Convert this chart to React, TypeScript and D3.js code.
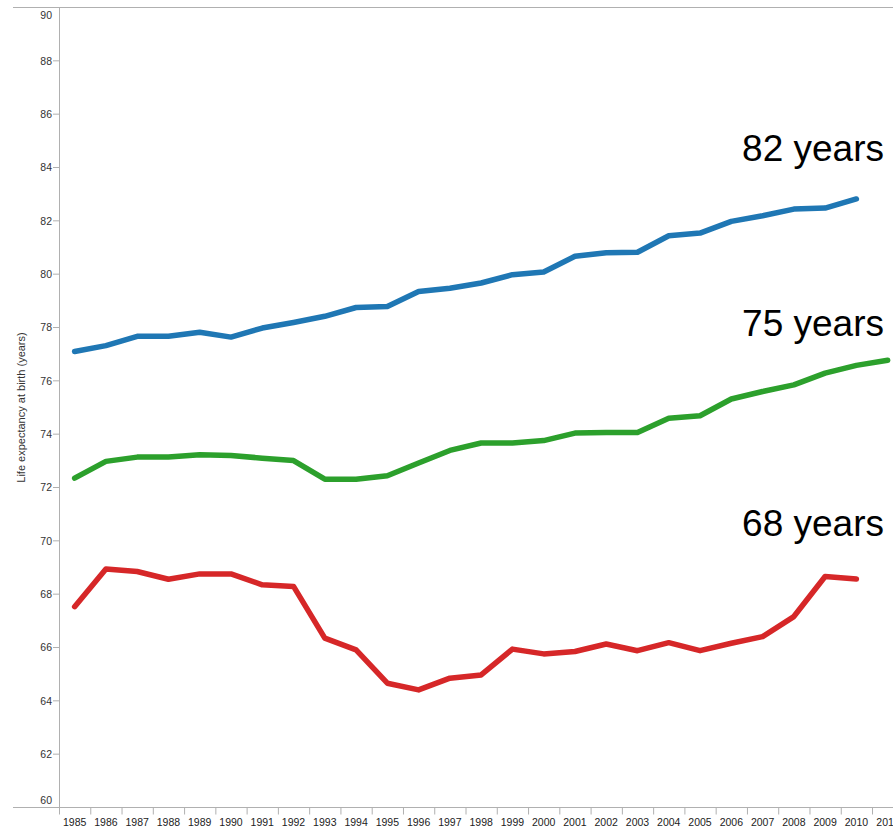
import { useEffect, useMemo } from 'react';
import * as d3 from 'd3';

// years along the x axis (the 2011 band is cut off at the right edge)
const years = d3.range(1985, 2012).map(String);

// life expectancy at birth, one value per year
const highSeries = [
	77.1, 77.32, 77.67, 77.67, 77.82, 77.64, 77.98, 78.19, 78.42, 78.75, 78.79, 79.35, 79.47,
	79.67, 79.98, 80.08, 80.67, 80.8, 80.82, 81.44, 81.54, 81.98, 82.19, 82.44, 82.48, 82.82,
];
const midSeries = [
	72.35, 72.98, 73.14, 73.14, 73.23, 73.2, 73.1, 73.01, 72.31, 72.31, 72.44, 72.92, 73.39,
	73.67, 73.67, 73.76, 74.04, 74.06, 74.06, 74.6, 74.69, 75.32, 75.6, 75.85, 76.29, 76.58, 76.77,
];
const lowSeries = [
	67.53, 68.94, 68.85, 68.56, 68.76, 68.76, 68.35, 68.29, 66.35, 65.91, 64.66, 64.41, 64.85,
	64.97, 65.94, 65.76, 65.85, 66.13, 65.88, 66.18, 65.88, 66.16, 66.41, 67.16, 68.66, 68.57,
];

const seriesColors = ['#1f77b4', '#2ca02c', '#d62728'];
const endLabels = ['82 years', '75 years', '68 years'];
const labelBaselines = [161, 336, 536];

const yTicks = d3.range(60, 91, 2);

const W = 893;
const H = 829;
const axisX = 59;
const top = 7.5;
const bottom = 807.5;

export default function App() {
	useEffect(() => {
		document.body.style.margin = '0';
	}, []);

	const x = useMemo(
		() => d3.scaleBand().domain(years).range([axisX, axisX + years.length * 31.27]),
		[]
	);
	const y = useMemo(() => d3.scaleLinear().domain([60, 90]).range([bottom, top]), []);

	const line = d3
		.line<number>()
		.x((_, i) => (x(years[i]) as number) + x.bandwidth() / 2)
		.y((d) => y(d));

	const series = [highSeries, midSeries, lowSeries];

	return (
		<svg width={W} height={H} style={{ display: 'block', fontFamily: 'Arial, "Liberation Sans", sans-serif' }}>
			{/* frame lines */}
			<line x1={13} x2={W} y1={top} y2={top} stroke="#b0b0b0" />
			<line x1={13} x2={W} y1={bottom} y2={bottom} stroke="#b0b0b0" />
			<line x1={axisX + 0.5} x2={axisX + 0.5} y1={top} y2={bottom} stroke="#b0b0b0" />

			{/* y axis */}
			{yTicks.map((t) => {
				const ty = y(t);
				const labelY = t === 90 ? ty + 8 : t === 60 ? ty - 7 : ty;
				return (
					<g key={t}>
						{t !== 90 && t !== 60 && (
							<line x1={axisX - 6} x2={axisX} y1={ty} y2={ty} stroke="#b0b0b0" />
						)}
						<text
							x={axisX - 7}
							y={labelY}
							dy="0.35em"
							textAnchor="end"
							fontSize={10.5}
							fill="#333"
						>
							{t}
						</text>
					</g>
				);
			})}
			<text
				transform={`translate(25,${(top + bottom) / 2}) rotate(-90)`}
				textAnchor="middle"
				fontSize={11}
				fill="#333"
			>
				Life expectancy at birth (years)
			</text>

			{/* x axis */}
			{years.map((yr) => {
				const bx = x(yr) as number;
				return (
					<g key={yr}>
						<line x1={bx + 0.5} x2={bx + 0.5} y1={bottom} y2={bottom + 7} stroke="#b0b0b0" />
						<text
							x={bx + x.bandwidth() / 2}
							y={bottom + 15}
							dy="0.35em"
							textAnchor="middle"
							fontSize={10.5}
							fill="#222"
						>
							{yr}
						</text>
					</g>
				);
			})}

			{/* series */}
			{series.map((s, i) => (
				<path
					key={i}
					d={line(s) ?? ''}
					fill="none"
					stroke={seriesColors[i]}
					strokeWidth={5.5}
					strokeLinejoin="round"
					strokeLinecap="round"
				/>
			))}

			{/* end labels */}
			{endLabels.map((lbl, i) => (
				<text key={lbl} x={884} y={labelBaselines[i]} textAnchor="end" fontSize={37} fill="#000">
					{lbl}
				</text>
			))}
		</svg>
	);
}
